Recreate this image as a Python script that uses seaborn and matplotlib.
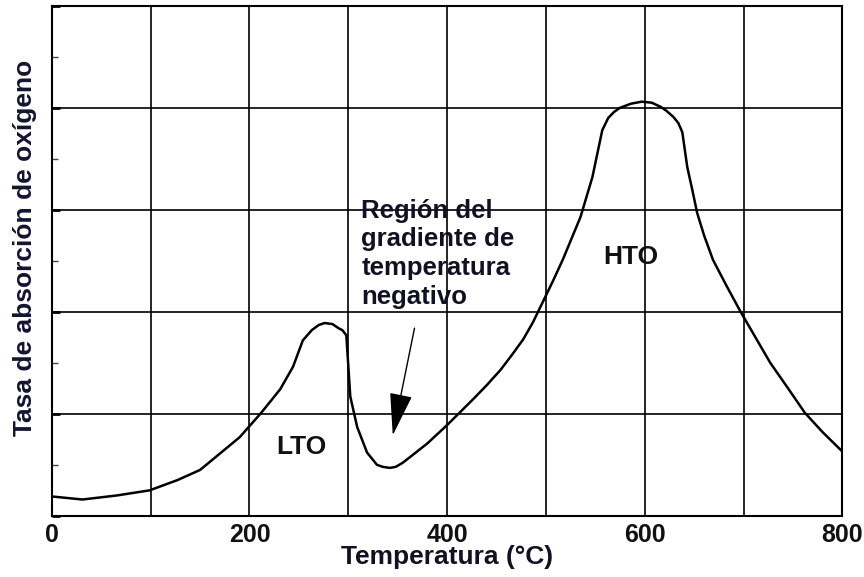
import matplotlib
matplotlib.use("Agg")
import matplotlib.pyplot as plt
import seaborn as sns
import pandas as pd
from matplotlib.ticker import MultipleLocator

# Data
temperature = [0, 31, 66, 99, 127, 150, 175, 190, 211, 231, 244, 254, 263,
               270, 276, 284, 290, 294, 298, 302, 309, 319, 329, 335, 342,
               348, 355, 363, 380, 390, 400, 426, 440, 454, 465, 477, 487,
               497, 507, 517, 526, 535, 547, 552, 557, 563, 569, 575, 586,
               597, 607, 616, 622, 629, 634, 638, 643, 648, 653, 660, 669,
               683, 697, 712, 727, 745, 762, 780, 800]
oxygen_rate = [0.19, 0.16, 0.20, 0.25, 0.35, 0.45, 0.65, 0.77, 1.00, 1.24,
               1.46, 1.72, 1.82, 1.87, 1.89, 1.88, 1.84, 1.82, 1.77, 1.17,
               0.87, 0.62, 0.50, 0.48, 0.47, 0.48, 0.52, 0.58, 0.71, 0.80,
               0.89, 1.14, 1.28, 1.43, 1.57, 1.73, 1.90, 2.10, 2.30, 2.51,
               2.72, 2.93, 3.32, 3.55, 3.78, 3.90, 3.96, 4.00, 4.04, 4.06,
               4.05, 4.01, 3.97, 3.91, 3.85, 3.76, 3.42, 3.20, 2.97, 2.75,
               2.51, 2.25, 2.00, 1.75, 1.50, 1.25, 1.01, 0.82, 0.63]
x_tick_values = [0, 100, 200, 300, 400, 500, 600, 700, 800]
x_tick_labels = ["0", "", "200", "", "400", "", "600", "", "800"]
x_label = "Temperatura (°C)"
y_label = "Tasa de absorción de oxígeno"
region_text = "Región del\ngradiente de\ntemperatura\nnegativo"

sns.set_theme(style="white")
plt.rcParams["font.family"] = ["Liberation Sans", "DejaVu Sans"]

df = pd.DataFrame({"T": temperature, "rate": oxygen_rate})

fig = plt.figure(figsize=(8.64, 5.77), dpi=100)
ax = fig.add_axes([0.060, 0.106, 0.915, 0.884])

sns.lineplot(data=df, x="T", y="rate", ax=ax, color="black", linewidth=1.8,
             sort=False)

ax.set_xlim(0, 800)
ax.set_ylim(0, 5)

ax.set_xticks(x_tick_values)
ax.set_xticklabels(x_tick_labels, fontsize=18, fontweight="bold",
                   color="#111111")
ax.yaxis.set_major_locator(MultipleLocator(1))
ax.yaxis.set_minor_locator(MultipleLocator(0.5))
ax.set_yticklabels([])
ax.tick_params(axis="x", length=0, pad=5)
ax.tick_params(axis="y", which="major", direction="in", length=6, width=2,
               color="black", left=True)
ax.tick_params(axis="y", which="minor", direction="in", length=4, width=1,
               color="#444444", left=True)

ax.grid(True, which="major", axis="both", color="black", linewidth=1.2)
ax.grid(False, which="minor")
for s in ax.spines.values():
    s.set_color("black")
    s.set_linewidth(1.5)

ax.set_xlabel(x_label, fontsize=19, fontweight="bold", color="#111122")
ax.xaxis.set_label_coords(0.5, -0.058)
ax.set_ylabel(y_label, fontsize=19, fontweight="bold", color="#141430")
ax.yaxis.set_label_coords(-0.019, 0.525)

ax.text(253, 0.67, "LTO", fontsize=19, fontweight="bold", color="#111111",
        ha="center", va="center")
ax.text(586, 2.54, "HTO", fontsize=19, fontweight="bold", color="#111111",
        ha="center", va="center")
ax.text(313, 3.11, region_text, fontsize=18.5, fontweight="bold",
        color="#111122", ha="left", va="top", linespacing=1.25)

ax.annotate("", xy=(345, 0.79), xytext=(367, 1.84),
            arrowprops=dict(arrowstyle="-|>,head_length=1.35,head_width=0.36",
                            mutation_scale=20, color="black", lw=1.0,
                            shrinkA=0, shrinkB=0))

fig.savefig("out.png", dpi=100)
